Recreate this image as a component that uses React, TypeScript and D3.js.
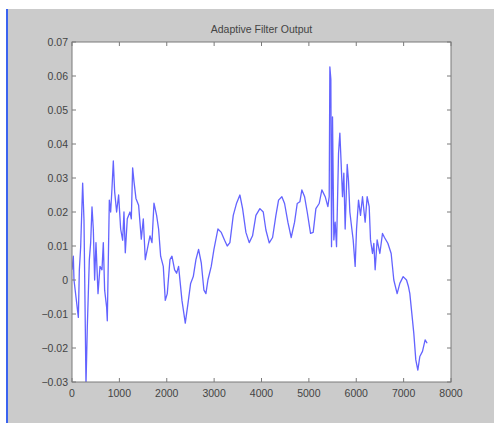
import * as d3 from 'd3';

// sample index and filter output
const sampleIdx = [
  0, 28, 42, 84, 134, 155, 183, 225, 253, 281, 295, 323, 366, 394, 422, 450, 478, 506, 549, 591,
  633, 661, 689, 731, 745, 788, 816, 844, 872, 900, 942, 984, 1027, 1069, 1097, 1125, 1167, 1224, 1252, 1280,
  1308, 1350, 1406, 1463, 1505, 1547, 1589, 1646, 1688, 1730, 1786, 1828, 1871, 1927, 1969, 2011, 2068, 2110, 2166, 2208,
  2250, 2321, 2391, 2447, 2504, 2560, 2616, 2672, 2729, 2785, 2827, 2869, 2939, 2996, 3080, 3151, 3221, 3277, 3333, 3404,
  3474, 3544, 3601, 3671, 3741, 3811, 3882, 3966, 4037, 4093, 4163, 4234, 4304, 4360, 4430, 4487, 4557, 4627, 4698, 4754,
  4810, 4852, 4909, 4965, 5035, 5091, 5148, 5218, 5274, 5345, 5401, 5429, 5443, 5464, 5478, 5499, 5527, 5555, 5584, 5626,
  5654, 5682, 5710, 5738, 5766, 5809, 5837, 5865, 5907, 5935, 5977, 6006, 6048, 6090, 6132, 6188, 6230, 6273, 6301, 6343,
  6371, 6399, 6441, 6498, 6554, 6596, 6667, 6737, 6793, 6863, 6920, 6990, 7061, 7103, 7131, 7173, 7215, 7257, 7300, 7342,
  7398, 7454, 7496,
];
const filterOut = [
  0.003, 0.007, 0.0, -0.005, -0.011, 0.003, 0.0097, 0.0285, 0.0176, -0.014, -0.031, -0.014, 0.006, 0.011, 0.0215, 0.015, 0.0, 0.011, -0.004, 0.004,
  0.003, 0.011, -0.003, -0.008, -0.012, 0.0235, 0.02, 0.027, 0.035, 0.026, 0.02, 0.025, 0.015, 0.0117, 0.02, 0.008, 0.018, 0.02, 0.018, 0.033,
  0.029, 0.024, 0.022, 0.012, 0.018, 0.006, 0.009, 0.013, 0.011, 0.0226, 0.019, 0.015, 0.007, 0.004, -0.006, -0.004, 0.006, 0.007, 0.003, 0.002,
  0.004, -0.006, -0.0127, -0.007, -0.001, 0.001, 0.006, 0.009, 0.005, -0.003, -0.004, 0.0, 0.004, 0.009, 0.015, 0.014, 0.0117, 0.01, 0.011, 0.019,
  0.0226, 0.025, 0.021, 0.014, 0.011, 0.013, 0.019, 0.021, 0.02, 0.0147, 0.0109, 0.0125, 0.019, 0.0235, 0.0245, 0.0225, 0.017, 0.0125, 0.017, 0.0225,
  0.023, 0.0265, 0.0245, 0.02, 0.0137, 0.014, 0.021, 0.0225, 0.0265, 0.0245, 0.0216, 0.0245, 0.0627, 0.059, 0.0098, 0.048, 0.0118, 0.017, 0.0098, 0.0373,
  0.0432, 0.034, 0.0245, 0.0314, 0.015, 0.034, 0.029, 0.02, 0.015, 0.0118, 0.004, 0.015, 0.0235, 0.019, 0.0245, 0.017, 0.0245, 0.0216, 0.0118, 0.0078,
  0.0108, 0.003, 0.0118, 0.0078, 0.0137, 0.0125, 0.0108, 0.0078, 0.0, -0.004, -0.001, 0.001, 0.0, -0.002, -0.004, -0.0098, -0.0157, -0.0235, -0.0265, -0.0225,
  -0.021, -0.0176, -0.0186,
];
const xTicks = [0, 1000, 2000, 3000, 4000, 5000, 6000, 7000, 8000];
const yTicks = [-0.03, -0.02, -0.01, 0, 0.01, 0.02, 0.03, 0.04, 0.05, 0.06, 0.07];
const title = 'Adaptive Filter Output';

export default function App() {
  const width = 494;
  const height = 423;
  const plot = { left: 72, right: 451, top: 42, bottom: 382 };

  const x = d3.scaleLinear().domain([0, 8000]).range([plot.left, plot.right]);
  const y = d3.scaleLinear().domain([-0.03, 0.07]).range([plot.bottom, plot.top]);

  const pts: [number, number][] = sampleIdx.map((s, i) => [s, filterOut[i]]);
  const line = d3.line<[number, number]>()
    .x(d => x(d[0]))
    .y(d => y(d[1]));

  const fmtY = (v: number) => (v === 0 ? '0' : d3.format('.2f')(v));
  const font = '"Liberation Sans", Arial, sans-serif';
  const axisCol = '#7a7a7a';
  const textCol = '#444444';
  const tick = 4;

  return (
    <svg width={width} height={height} style={{ position: 'absolute', left: 0, top: 0, display: 'block' }}>
      <rect x={0} y={0} width={width} height={height} fill="#ffffff" />
      <rect x={8} y={9} width={width - 8} height={height - 9} fill="#cbcbcb" />
      <line x1={7} x2={7} y1={9} y2={height} stroke="#3a63f0" strokeWidth={2} />

      <defs>
        <clipPath id="plotClip">
          <rect x={plot.left} y={plot.top} width={plot.right - plot.left} height={plot.bottom - plot.top} />
        </clipPath>
      </defs>

      <rect
        x={plot.left}
        y={plot.top}
        width={plot.right - plot.left}
        height={plot.bottom - plot.top}
        fill="#ffffff"
      />

      <path
        d={line(pts) ?? ''}
        fill="none"
        stroke="#4848ff"
        strokeWidth={1.3}
        strokeOpacity={0.85}
        strokeLinejoin="round"
        clipPath="url(#plotClip)"
      />

      {/* box + inward ticks */}
      <rect
        x={plot.left}
        y={plot.top}
        width={plot.right - plot.left}
        height={plot.bottom - plot.top}
        fill="none"
        stroke={axisCol}
        strokeWidth={1}
      />
      {xTicks.map(t => (
        <g key={'x' + t}>
          <line x1={x(t)} x2={x(t)} y1={plot.bottom} y2={plot.bottom - tick} stroke={axisCol} />
          <line x1={x(t)} x2={x(t)} y1={plot.top} y2={plot.top + tick} stroke={axisCol} />
          <text x={x(t)} y={plot.bottom + 15} textAnchor="middle" fontFamily={font} fontSize={10.5} fill={textCol}>
            {t}
          </text>
        </g>
      ))}
      {yTicks.map(t => (
        <g key={'y' + t}>
          <line x1={plot.left} x2={plot.left + tick} y1={y(t)} y2={y(t)} stroke={axisCol} />
          <line x1={plot.right} x2={plot.right - tick} y1={y(t)} y2={y(t)} stroke={axisCol} />
          <text x={plot.left - 4} y={y(t) + 4} textAnchor="end" fontFamily={font} fontSize={10.5} fill={textCol}>
            {fmtY(t)}
          </text>
        </g>
      ))}

      <text
        x={(plot.left + plot.right) / 2}
        y={33}
        textAnchor="middle"
        fontFamily={font}
        fontSize={10.5}
        fill={textCol}
      >
        {title}
      </text>
    </svg>
  );
}
